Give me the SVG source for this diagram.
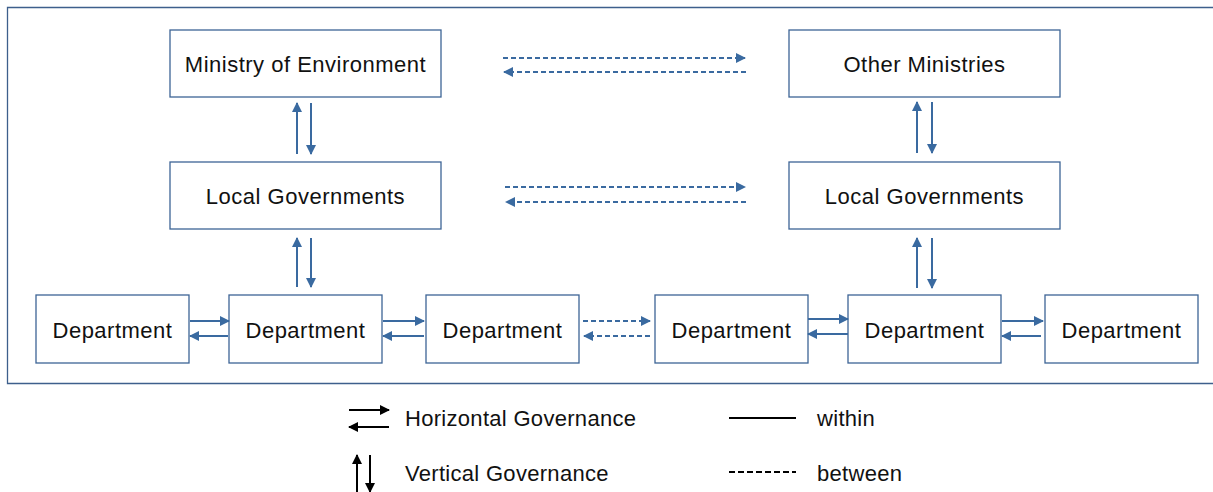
<svg xmlns="http://www.w3.org/2000/svg" width="1213" height="492" viewBox="0 0 1213 492">
  <style>
    .box { fill: #ffffff; stroke: #3d6496; stroke-width: 1.3; }
    .lbl { font-family: "Liberation Sans", "Noto Sans CJK KR", sans-serif; font-size: 22px; letter-spacing: 0.5px; fill: #111111; text-anchor: middle; dominant-baseline: central; }
    .leg { font-family: "Liberation Sans", "Noto Sans CJK KR", sans-serif; font-size: 22px; letter-spacing: 0.3px; fill: #111111; dominant-baseline: central; }
    .solid { stroke: #3a6aa0; stroke-width: 2; fill: none; }
    .dash { stroke: #3a6aa0; stroke-width: 2; fill: none; stroke-dasharray: 5 3; }
    .lk { stroke: #000000; stroke-width: 2; fill: none; }
  </style>
  <defs>
    <marker id="ah" viewBox="0 0 10 10" refX="9" refY="5" markerWidth="5" markerHeight="5" orient="auto" markerUnits="strokeWidth">
      <path d="M0,0 L10,5 L0,10 z" fill="#3a6aa0"/>
    </marker>
    <marker id="ahk" viewBox="0 0 10 10" refX="9" refY="5" markerWidth="5" markerHeight="5" orient="auto" markerUnits="strokeWidth">
      <path d="M0,0 L10,5 L0,10 z" fill="#000000"/>
    </marker>
  </defs>

  <rect width="1213" height="492" fill="#ffffff"/>
  <!-- outer frame -->
  <path d="M1214,7.5 H7.5 V383.5 H1214" fill="none" stroke="#3d5f8c" stroke-width="1.3"/>

  <g id="ministry-env"><rect class="box" x="170" y="30" width="271" height="67"/><text class="lbl" x="305.5" y="64">Ministry of Environment</text></g>
  <g id="other-ministries"><rect class="box" x="789" y="30" width="271" height="67"/><text class="lbl" x="924.5" y="64">Other Ministries</text></g>
  <g id="local-gov-left"><rect class="box" x="170" y="162" width="271" height="67"/><text class="lbl" x="305.5" y="196">Local Governments</text></g>
  <g id="local-gov-right"><rect class="box" x="789" y="162" width="271" height="67"/><text class="lbl" x="924.5" y="196">Local Governments</text></g>

  <g id="dept-1"><rect class="box" x="36" y="295" width="153" height="68"/><text class="lbl" x="112.5" y="330">Department</text></g>
  <g id="dept-2"><rect class="box" x="229" y="295" width="153" height="68"/><text class="lbl" x="305.5" y="330">Department</text></g>
  <g id="dept-3"><rect class="box" x="426" y="295" width="153" height="68"/><text class="lbl" x="502.5" y="330">Department</text></g>
  <g id="dept-4"><rect class="box" x="655" y="295" width="153" height="68"/><text class="lbl" x="731.5" y="330">Department</text></g>
  <g id="dept-5"><rect class="box" x="848" y="295" width="153" height="68"/><text class="lbl" x="924.5" y="330">Department</text></g>
  <g id="dept-6"><rect class="box" x="1045" y="295" width="153" height="68"/><text class="lbl" x="1121.5" y="330">Department</text></g>

  <g id="connectors">
    <!-- ministry level, between -->
    <line class="dash" x1="503" y1="58" x2="745" y2="58" marker-end="url(#ah)"/>
    <line class="dash" x1="746" y1="72" x2="504" y2="72" marker-end="url(#ah)"/>
    <!-- local government level, between -->
    <line class="dash" x1="505" y1="187" x2="745" y2="187" marker-end="url(#ah)"/>
    <line class="dash" x1="746" y1="202" x2="506" y2="202" marker-end="url(#ah)"/>
    <!-- vertical, left -->
    <line class="solid" x1="297" y1="154" x2="297" y2="103" marker-end="url(#ah)"/>
    <line class="solid" x1="311" y1="103" x2="311" y2="154" marker-end="url(#ah)"/>
    <line class="solid" x1="297" y1="287" x2="297" y2="238" marker-end="url(#ah)"/>
    <line class="solid" x1="311" y1="238" x2="311" y2="287" marker-end="url(#ah)"/>
    <!-- vertical, right -->
    <line class="solid" x1="917" y1="153" x2="917" y2="102" marker-end="url(#ah)"/>
    <line class="solid" x1="932" y1="102" x2="932" y2="153" marker-end="url(#ah)"/>
    <line class="solid" x1="917" y1="288" x2="917" y2="238" marker-end="url(#ah)"/>
    <line class="solid" x1="932" y1="238" x2="932" y2="288" marker-end="url(#ah)"/>
    <!-- department row -->
    <line class="solid" x1="190" y1="321" x2="229" y2="321" marker-end="url(#ah)"/>
    <line class="solid" x1="228" y1="336" x2="190" y2="336" marker-end="url(#ah)"/>
    <line class="solid" x1="383" y1="321" x2="424" y2="321" marker-end="url(#ah)"/>
    <line class="solid" x1="424" y1="336" x2="383" y2="336" marker-end="url(#ah)"/>
    <line class="dash" x1="583" y1="321" x2="650" y2="321" marker-end="url(#ah)"/>
    <line class="dash" x1="650" y1="336" x2="584" y2="336" marker-end="url(#ah)"/>
    <line class="solid" x1="808" y1="319" x2="848" y2="319" marker-end="url(#ah)"/>
    <line class="solid" x1="848" y1="334" x2="808" y2="334" marker-end="url(#ah)"/>
    <line class="solid" x1="1002" y1="321" x2="1043" y2="321" marker-end="url(#ah)"/>
    <line class="solid" x1="1041" y1="336" x2="1002" y2="336" marker-end="url(#ah)"/>
  </g>

  <g id="legend">
    <line class="lk" x1="349" y1="410" x2="389" y2="410" marker-end="url(#ahk)"/>
    <line class="lk" x1="389" y1="427" x2="349" y2="427" marker-end="url(#ahk)"/>
    <text class="leg" x="405" y="418">Horizontal Governance</text>
    <line class="lk" x1="357" y1="492" x2="357" y2="455" marker-end="url(#ahk)"/>
    <line class="lk" x1="370" y1="455" x2="370" y2="492" marker-end="url(#ahk)"/>
    <text class="leg" x="405" y="473">Vertical Governance</text>
    <line x1="729" y1="418" x2="796" y2="418" stroke="#000000" stroke-width="1.8"/>
    <text class="leg" x="817" y="418">within</text>
    <line x1="729" y1="472" x2="796" y2="472" stroke="#000000" stroke-width="1.8" stroke-dasharray="6 3"/>
    <text class="leg" x="817" y="473">between</text>
  </g>
</svg>
